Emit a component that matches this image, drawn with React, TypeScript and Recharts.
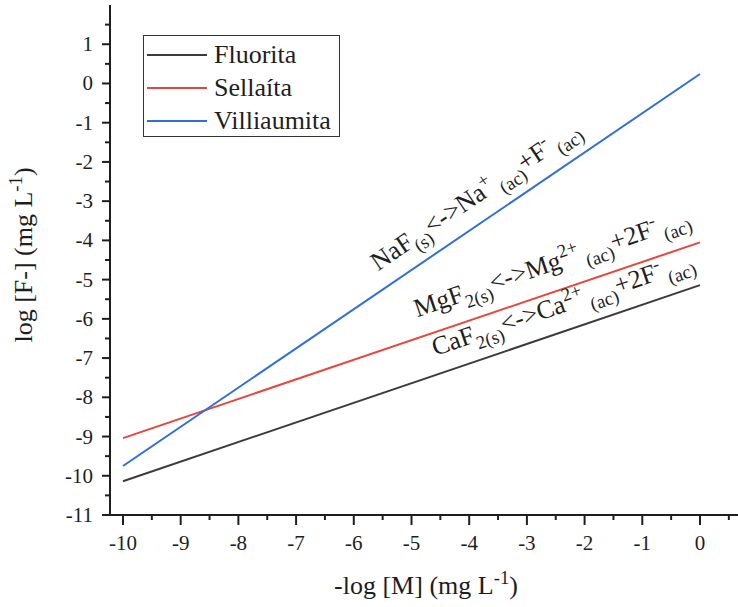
import React from 'react';
import { LineChart, Line, XAxis, YAxis, ReferenceDot, Label } from 'recharts';

// -log[M] endpoints and log[F-] for each mineral
const xValues = [-10, 0];
const fluorita = [-10.14, -5.14];
const sellaita = [-9.04, -4.05];
const villiaumita = [-9.75, 0.24];

const seriesNames = ['Fluorita', 'Sellaíta', 'Villiaumita'];
const seriesKeys = ['fluorita', 'sellaita', 'villiaumita'];
const seriesColors = ['#3b3b3b', '#e8453c', '#2f6fd8'];

const xMajorTicks = [-10, -9, -8, -7, -6, -5, -4, -3, -2, -1, 0];
const xMinorTicks = [-9.5, -8.5, -7.5, -6.5, -5.5, -4.5, -3.5, -2.5, -1.5, -0.5, 0.5];
const yMajorTicks = [-11, -10, -9, -8, -7, -6, -5, -4, -3, -2, -1, 0, 1];
const yMinorTicks = [-10.5, -9.5, -8.5, -7.5, -6.5, -5.5, -4.5, -3.5, -2.5, -1.5, -0.5, 0.5, 1.5];

const X_DOMAIN: [number, number] = [-10.225, 0.728];
const Y_DOMAIN: [number, number] = [-11, 2];

const FONT = '"Liberation Serif", "Times New Roman", Times, serif';
const INK = '#1e1e1e';
const serif = { fontFamily: FONT };

const data = xValues.map((x, i) => ({
  x,
  fluorita: fluorita[i],
  sellaita: sellaita[i],
  villiaumita: villiaumita[i],
}));

type Seg = { t: string; k?: 'sub' | 'sup' };

const richText = (segs: Seg[], size: number) => {
  let cur = 0;
  return segs.map((s, i) => {
    const target = s.k === 'sub' ? size * 0.3 : s.k === 'sup' ? -size * 0.38 : 0;
    const dy = target - cur;
    cur = target;
    return (
      <tspan key={i} dy={dy} fontSize={s.k ? size * 0.72 : size} style={{ whiteSpace: 'pre', fontFamily: FONT }}>
        {s.t}
      </tspan>
    );
  });
};

const annotations = [
  {
    x: -5.58,
    y: -4.79,
    angle: -34.2,
    segs: [
      { t: 'NaF' }, { t: '(s)', k: 'sub' }, { t: '<->Na' }, { t: '+', k: 'sup' },
      { t: ' (ac)', k: 'sub' }, { t: '+F' }, { t: '-', k: 'sup' }, { t: ' (ac)', k: 'sub' },
    ] as Seg[],
  },
  {
    x: -4.9,
    y: -5.96,
    angle: -18.8,
    segs: [
      { t: 'MgF' }, { t: '2(s)', k: 'sub' }, { t: '<->Mg' }, { t: '2+', k: 'sup' },
      { t: ' (ac)', k: 'sub' }, { t: '+2F' }, { t: '-', k: 'sup' }, { t: ' (ac)', k: 'sub' },
    ] as Seg[],
  },
  {
    x: -4.59,
    y: -6.95,
    angle: -18.8,
    segs: [
      { t: 'CaF' }, { t: '2(s)', k: 'sub' }, { t: '<->Ca' }, { t: '2+', k: 'sup' },
      { t: ' (ac)', k: 'sub' }, { t: '+2F' }, { t: '-', k: 'sup' }, { t: ' (ac)', k: 'sub' },
    ] as Seg[],
  },
];

const isMajor = (v: number) => Number.isInteger(v);

const BottomTick = ({ x, y, payload }: any) => {
  const major = isMajor(payload.value);
  return (
    <g>
      <line x1={x} x2={x} y1={y} y2={y + (major ? 10 : 5)} stroke={INK} strokeWidth={2} />
      {major && (
        <text x={x} y={y + 35} textAnchor="middle" style={serif} fontSize={21} fill={INK}>
          {payload.value}
        </text>
      )}
    </g>
  );
};

const TopTick = ({ x, y, payload }: any) => {
  const major = isMajor(payload.value);
  return <line x1={x} x2={x} y1={y} y2={y + (major ? 10 : 5)} stroke={INK} strokeWidth={2} />;
};

const LeftTick = ({ x, y, payload }: any) => {
  const major = isMajor(payload.value);
  return (
    <g>
      <line x1={x} x2={x - (major ? 8 : 5)} y1={y} y2={y} stroke={INK} strokeWidth={2} />
      {major && (
        <text x={x - 17} y={y + 7} textAnchor="end" style={serif} fontSize={21} fill={INK}>
          {payload.value}
        </text>
      )}
    </g>
  );
};

const RightTick = ({ x, y, payload }: any) => {
  const major = isMajor(payload.value);
  return <line x1={x} x2={x - (major ? 10 : 5)} y1={y} y2={y} stroke={INK} strokeWidth={2} />;
};

const XTitle = ({ viewBox }: any) => {
  const cx = viewBox.x + viewBox.width / 2;
  return (
    <text x={cx} y={viewBox.y + 79} textAnchor="middle" style={serif} fontSize={26} fill={INK}>
      {richText([{ t: '-log [M] (mg L' }, { t: '-1', k: 'sup' }, { t: ')' }], 26)}
    </text>
  );
};

const YTitle = ({ viewBox }: any) => {
  const cx = 32;
  const cy = viewBox.y + viewBox.height / 2 - 5;
  return (
    <text
      x={cx}
      y={cy}
      transform={`rotate(-90 ${cx} ${cy})`}
      textAnchor="middle"
      style={serif}
      fontSize={26}
      fill={INK}
    >
      {richText([{ t: 'log [F-] (mg L' }, { t: '-1', k: 'sup' }, { t: ')' }], 26)}
    </text>
  );
};

const annotationShape = (a: (typeof annotations)[number]) => (props: any) => {
  const { cx, cy } = props;
  return (
    <text
      x={cx}
      y={cy}
      transform={`rotate(${a.angle} ${cx} ${cy})`}
      style={serif}
      fontSize={26}
      fill={INK}
    >
      {richText(a.segs, 26)}
    </text>
  );
};

export default function App() {
  return (
    <div
      style={{
        position: 'absolute',
        left: 0,
        top: 0,
        width: 738,
        height: 607,
        overflow: 'hidden',
        background: '#fff',
        fontFamily: FONT,
      }}
    >
      <LineChart width={743} height={607} data={data} margin={{ top: 5, right: 1, bottom: 0, left: 0 }}>
        <XAxis
          type="number"
          dataKey="x"
          domain={X_DOMAIN}
          allowDataOverflow
          ticks={[...xMajorTicks, ...xMinorTicks]}
          interval={0}
          tickSize={0}
          tickMargin={0}
          tick={<BottomTick />}
          axisLine={{ stroke: INK, strokeWidth: 2 }}
          height={92}
        >
          <Label content={<XTitle />} />
        </XAxis>
        <XAxis
          xAxisId="top"
          orientation="top"
          type="number"
          dataKey="x"
          domain={X_DOMAIN}
          allowDataOverflow
          ticks={[...xMajorTicks, ...xMinorTicks]}
          interval={0}
          tickSize={0}
          tickMargin={0}
          tick={<TopTick />}
          axisLine={{ stroke: INK, strokeWidth: 2 }}
          height={0}
        />
        <YAxis
          type="number"
          domain={Y_DOMAIN}
          allowDataOverflow
          ticks={[...yMajorTicks, ...yMinorTicks]}
          interval={0}
          tickSize={0}
          tickMargin={0}
          tick={<LeftTick />}
          axisLine={{ stroke: INK, strokeWidth: 2 }}
          width={110}
        >
          <Label content={<YTitle />} />
        </YAxis>
        <YAxis
          yAxisId="right"
          orientation="right"
          type="number"
          domain={Y_DOMAIN}
          allowDataOverflow
          ticks={[...yMajorTicks, ...yMinorTicks]}
          interval={0}
          tickSize={0}
          tickMargin={0}
          tick={<RightTick />}
          axisLine={{ stroke: INK, strokeWidth: 2 }}
          width={0}
        />
        {seriesKeys.map((key, i) => (
          <Line
            key={key}
            type="linear"
            dataKey={key}
            name={seriesNames[i]}
            stroke={seriesColors[i]}
            strokeWidth={2}
            dot={false}
            activeDot={false}
            isAnimationActive={false}
          />
        ))}
        {annotations.map((a, i) => (
          <ReferenceDot key={i} x={a.x} y={a.y} r={1} shape={annotationShape(a)} />
        ))}
      </LineChart>

      {/* legend box */}
      <div
        style={{
          position: 'absolute',
          left: 143,
          top: 35,
          width: 195,
          height: 100,
          border: '1px solid #333',
          background: '#fff',
        }}
      >
        {seriesNames.map((name, i) => (
          <div
            key={name}
            style={{
              position: 'absolute',
              left: 3,
              top: 2 + i * 33,
              height: 33,
              display: 'flex',
              alignItems: 'center',
              whiteSpace: 'nowrap',
            }}
          >
            <span style={{ display: 'inline-block', width: 60, height: 2, background: seriesColors[i], marginRight: 7 }} />
            <span style={{ fontFamily: FONT, fontSize: 26, color: INK, lineHeight: '33px' }}>{name}</span>
          </div>
        ))}
      </div>
    </div>
  );
}
